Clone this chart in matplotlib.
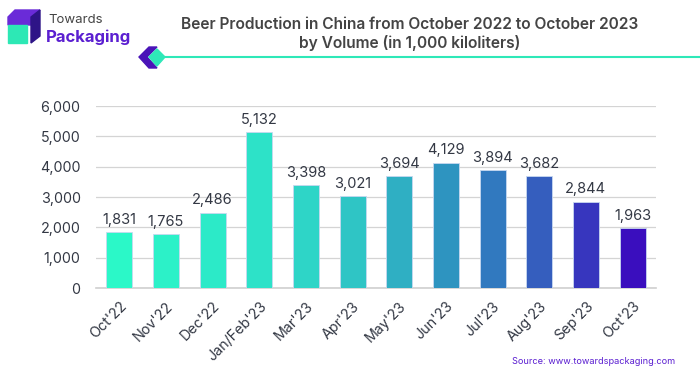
import numpy as np
import matplotlib
matplotlib.use("Agg")
import matplotlib.pyplot as plt
from matplotlib.colors import LinearSegmentedColormap
from matplotlib.patches import Polygon
from matplotlib.ticker import FuncFormatter

plt.rcParams['font.family'] = ['Inter', 'DejaVu Sans']

# ── data ────────────────────────────────────────────────────────────────────
months = ["Oct'22", "Nov'22", "Dec'22", "Jan/Feb'23", "Mar'23", "Apr'23",
          "May'23", "Jun'23", "Jul'23", "Aug'23", "Sep'23", "Oct'23"]
volume = [1831, 1765, 2486, 5132, 3398, 3021, 3694, 4129, 3894, 3682, 2844, 1963]

TITLE = "Beer Production in China from October 2022 to October 2023\nby Volume (in 1,000 kiloliters)"
SOURCE = "Source: www.towardspackaging.com"

# ── colours ─────────────────────────────────────────────────────────────────
GRAD = LinearSegmentedColormap.from_list(
    "tp", [(0.0, "#2BF8C8"), (0.3, "#2DE0C8"), (0.5, "#2FBDC4"),
           (0.64, "#2E93C0"), (0.82, "#355EBE"), (1.0, "#3A0EBE")])
TEXT = "#333844"
PURPLE = "#5B1FD1"
MINT = "#2EE8B8"


def px(pts):
    # pixel coords (from top-left) -> figure fraction
    return [[xp / 700, 1 - yp / 375] for xp, yp in pts]


fig = plt.figure(figsize=(7, 3.75), dpi=100)
ax = fig.add_axes([0.137, 0.232, 0.8, 0.485])

x = np.arange(len(months))
cols = [GRAD(i / (len(months) - 1)) for i in x]
ax.bar(x, volume, width=0.56, color=cols, edgecolor="#c8d8f0", linewidth=0.6, zorder=3)
for xi, v in zip(x, volume):
    ax.text(xi, v + 180, f"{v:,}", ha="center", va="bottom", fontsize=10.5, color=TEXT)

ax.set_xlim(-0.5, len(months) - 0.5)
ax.set_ylim(0, 6000)
ax.set_yticks(range(0, 6001, 1000))
ax.yaxis.set_major_formatter(FuncFormatter(lambda v, p: f"{int(v):,}"))
ax.grid(axis="y", color="#d4d4d4", lw=0.9, zorder=0)
for s in ["top", "right", "left"]:
    ax.spines[s].set_visible(False)
ax.spines["bottom"].set_color("#cfcfcf")
ax.spines["bottom"].set_linewidth(1.2)
ax.tick_params(axis="both", length=0, labelsize=10.3, colors=TEXT)
ax.tick_params(axis="y", pad=11)
ax.set_xticks(x)
ax.set_xticklabels(months, rotation=45, ha="right", rotation_mode="anchor")
ax.tick_params(axis="x", pad=8)

# ── title + header decoration ───────────────────────────────────────────────
fig.text(0.585, 0.955, TITLE, ha="center", va="top", fontsize=11.2,
         fontweight="semibold", color="#444444", linespacing=1.25)
fig.add_artist(plt.Line2D([160 / 700, 1.0], [1 - 57 / 375] * 2, color=MINT, lw=1.5))
fig.add_artist(Polygon(px([(139, 57), (149, 47), (157, 47), (147, 57), (157, 68), (149, 68)]),
                       closed=True, color="#4A14B8"))
fig.add_artist(Polygon(px([(149, 57), (157, 49), (165, 57), (157, 66)]), closed=True, color=MINT))

# ── logo ────────────────────────────────────────────────────────────────────
fig.add_artist(Polygon(px([(8, 25), (8, 17), (15, 10), (40, 10), (31, 17), (31, 25)]),
                       closed=True, color="#6A2BD8"))
fig.add_artist(Polygon(px([(31, 17), (40, 10), (40, 36), (31, 43)]), closed=True, color="#2E1487"))
fig.add_artist(Polygon(px([(8, 25), (27, 25), (27, 43), (8, 43)]), closed=True, color="#2DE8B5"))
fig.text(48 / 700, 1 - 20 / 375, "Towards", ha="left", va="center", fontsize=9.5, color="#444444")
fig.text(46 / 700, 1 - 37 / 375, "Packaging", ha="left", va="center", fontsize=12,
         fontweight="bold", color=PURPLE)

fig.text(0.965, 0.035, SOURCE, ha="right", va="center", fontsize=6.6, color=PURPLE)

fig.savefig("out.png", dpi=100)
